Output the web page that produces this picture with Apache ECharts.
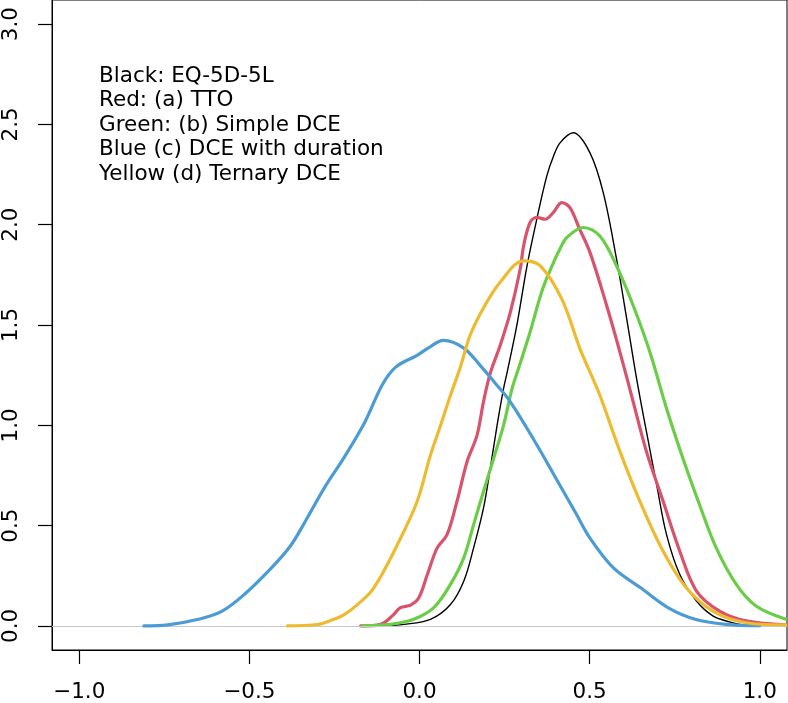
<!DOCTYPE html>
<html>
<head>
<meta charset="utf-8">
<script src="https://cdn.jsdelivr.net/npm/echarts@6/dist/echarts.min.js"></script>
<style>
html,body{margin:0;padding:0;background:#fff;}
#chart{width:788px;height:703px;}
</style>
</head>
<body>
<div id="chart"></div>
<script>
// Tick values
const xTicks = [-1.0, -0.5, 0.0, 0.5, 1.0];
const yTicks = [0.0, 0.5, 1.0, 1.5, 2.0, 2.5, 3.0];

// Annotation lines
const noteLines = [
  'Black: EQ-5D-5L',
  'Red: (a) TTO',
  'Green: (b) Simple DCE',
  'Blue (c) DCE with duration',
  'Yellow (d) Ternary DCE'
];

// Density curves [value, density]
const blackEQ5D = [
  [-0.114,0],[-0.046,0.008],[0.032,0.033],[0.091,0.107],[0.130,0.223],[0.159,0.389],
  [0.188,0.587],[0.208,0.786],[0.228,1.0],[0.247,1.183],[0.257,1.26],[0.286,1.498],
  [0.316,1.795],[0.345,2.03],[0.374,2.242],[0.394,2.342],[0.413,2.408],[0.452,2.458],
  [0.501,2.358],[0.540,2.16],[0.579,1.829],[0.609,1.531],[0.638,1.233],[0.667,0.968],
  [0.697,0.703],[0.726,0.455],[0.765,0.256],[0.814,0.124],[0.862,0.05],[0.911,0.02],[0.95,0.005]
];
const redTTO = [
  [-0.173,0],[-0.114,0.008],[-0.08,0.05],[-0.056,0.091],[-0.026,0.104],[-0.002,0.14],
  [0.023,0.256],[0.052,0.389],[0.081,0.455],[0.110,0.62],[0.140,0.82],[0.169,0.95],
  [0.188,1.117],[0.208,1.26],[0.237,1.398],[0.267,1.564],[0.296,1.779],[0.306,1.895],
  [0.325,2.011],[0.345,2.036],[0.369,2.027],[0.393,2.06],[0.418,2.11],[0.442,2.085],
  [0.47,1.98],[0.501,1.862],[0.55,1.597],[0.589,1.365],[0.628,1.117],[0.667,0.869],
  [0.716,0.621],[0.765,0.372],[0.814,0.174],[0.882,0.074],[0.96,0.025],[1.077,0.005]
];
const greenSimpleDCE = [
  [-0.168,0],[-0.085,0.008],[-0.017,0.033],[0.042,0.091],[0.091,0.207],[0.130,0.339],
  [0.159,0.505],[0.188,0.67],[0.218,0.836],[0.247,1.0],[0.272,1.183],[0.291,1.283],
  [0.325,1.465],[0.36,1.67],[0.394,1.812],[0.413,1.88],[0.433,1.936],[0.481,1.986],
  [0.53,1.944],[0.579,1.795],[0.628,1.597],[0.677,1.365],[0.726,1.084],[0.774,0.836],
  [0.823,0.604],[0.872,0.389],[0.931,0.207],[0.989,0.099],[1.077,0.033]
];
const blueDCEDuration = [
  [-0.81,0],[-0.74,0.005],[-0.65,0.033],[-0.58,0.074],[-0.515,0.157],[-0.44,0.281],
  [-0.38,0.397],[-0.33,0.538],[-0.28,0.687],[-0.22,0.844],[-0.16,1.018],[-0.11,1.2],
  [-0.07,1.29],[-0.007,1.349],[0.03,1.39],[0.07,1.423],[0.13,1.385],[0.18,1.295],
  [0.22,1.215],[0.267,1.117],[0.345,0.902],[0.413,0.70],[0.46,0.56],[0.50,0.44],
  [0.57,0.289],[0.65,0.19],[0.73,0.091],[0.81,0.033],[0.90,0.008],[1.0,0.001]
];
const yellowTernaryDCE = [
  [-0.388,0],[-0.30,0.007],[-0.26,0.028],[-0.22,0.058],[-0.18,0.11],[-0.134,0.19],
  [-0.065,0.405],[-0.007,0.62],[0.032,0.85],[0.062,1.0],[0.091,1.15],[0.12,1.29],
  [0.149,1.45],[0.188,1.585],[0.237,1.713],[0.306,1.82],[0.355,1.795],[0.418,1.63],
  [0.472,1.38],[0.53,1.15],[0.589,0.87],[0.648,0.62],[0.716,0.372],[0.784,0.19],
  [0.862,0.074],[0.96,0.016],[1.077,0.005]
];

const FONT = 'DejaVu Sans';
const FS = 21.5;
const fmt = v => v.toFixed(1).replace('-', '\u2212');

const chart = echarts.init(document.getElementById('chart'), null, {renderer: 'canvas'});

function curve(name, data, color, width, z) {
  return {
    name, type: 'line', data, smooth: 0.35, symbol: 'none', z,
    lineStyle: {color, width, cap: 'round', join: 'round'},
    emphasis: {disabled: true}, animation: false
  };
}

const series = [
  {
    type: 'line', data: [], symbol: 'none', z: 1, silent: true,
    markLine: {
      silent: true, symbol: ['none', 'none'], label: {show: false},
      lineStyle: {color: '#c8c8c8', width: 1, type: 'solid'},
      data: [{yAxis: 0}], animation: false
    }
  },
  curve('Black', blackEQ5D, '#000000', 1.4, 2),
  curve('Red', redTTO, '#d9536d', 3.2, 3),
  curve('Green', greenSimpleDCE, '#6acd48', 3.2, 4),
  curve('Blue', blueDCEDuration, '#4b9bd5', 3.2, 5),
  curve('Yellow', yellowTernaryDCE, '#eebb30', 3.2, 6)
];

const graphic = noteLines.map((t, i) => ({
  type: 'text', left: 99, top: 65 + i * 24.6, z: 100,
  style: {text: t, font: `${FS}px "${FONT}"`, fill: '#000'}
}));

chart.setOption({
  animation: false,
  backgroundColor: '#fff',
  grid: {left: 50, right: 1, top: 0, bottom: 50.5, show: true, borderColor: '#000', borderWidth: 1, containLabel: false},
  xAxis: {
    type: 'value', min: -1.08, max: 1.08,
    splitLine: {show: false},
    axisLine: {show: true, onZero: false, lineStyle: {color: '#000', width: 1}},
    axisTick: {show: true, length: 14, lineStyle: {color: '#000', width: 1.2}, customValues: xTicks},
    axisLabel: {customValues: xTicks, formatter: fmt, fontFamily: FONT, fontSize: FS, color: '#000', margin: 31, showMinLabel: true, showMaxLabel: true}
  },
  yAxis: {
    type: 'value', min: -0.12, max: 3.12,
    splitLine: {show: false},
    axisLine: {show: true, onZero: false, lineStyle: {color: '#000', width: 1}},
    axisTick: {show: true, length: 14, lineStyle: {color: '#000', width: 1.2}, customValues: yTicks},
    axisLabel: {customValues: yTicks, formatter: fmt, rotate: 90, fontFamily: FONT, fontSize: FS, color: '#000', margin: 30, showMinLabel: true, showMaxLabel: true}
  },
  graphic,
  series
});
</script>
</body>
</html>
